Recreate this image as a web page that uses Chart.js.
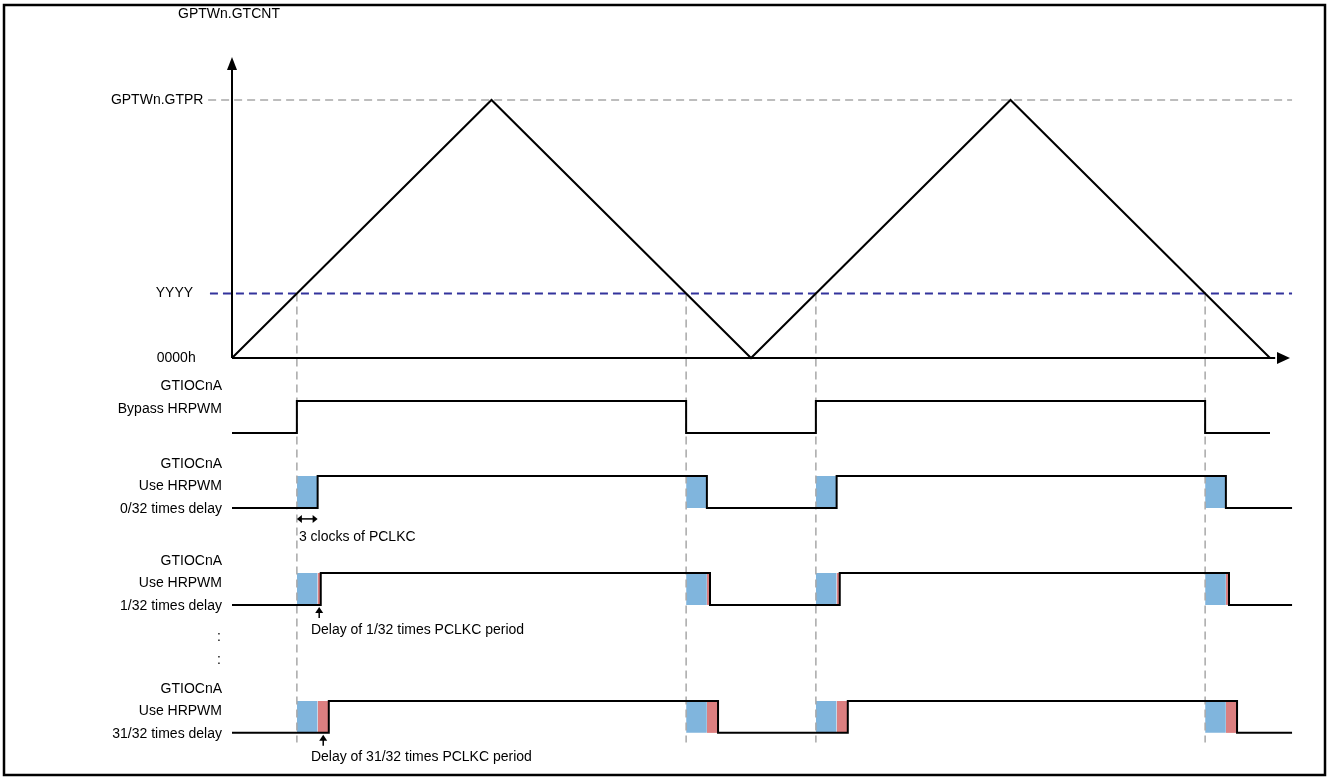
<!DOCTYPE html>
<html>
<head>
<meta charset="utf-8">
<script src="https://cdn.jsdelivr.net/npm/chart.js@4.4.1/dist/chart.umd.min.js"></script>
<style>
  html, body { margin: 0; padding: 0; background: #fff; }
  canvas { display: block; }
</style>
</head>
<body>
<canvas id="c" width="1328" height="780"></canvas>
<script>
// counter in % of GTPR, time in timer ticks
const counterT = [0, 100, 200, 300, 400];
const counterV = [0, 100, 0, 100, 0];
const tickValues = [100, 25, 0];
const tickLabels = ["GPTWn.GTPR", "YYYY", "0000h"];
const compareT = [25, 175, 225, 375];      // GTCNT == YYYY

// output rows
const rowLabels = [
  ["GTIOCnA", "Bypass HRPWM"],
  ["GTIOCnA", "Use HRPWM", "0/32 times delay"],
  ["GTIOCnA", "Use HRPWM", "1/32 times delay"],
  ["GTIOCnA", "Use HRPWM", "31/32 times delay"],
];
const clockDelay = [0, 8, 8, 8];           // 3 clocks of PCLKC
const fineDelay  = [0, 0, 1.2, 4.3];       // n/32 PCLKC period
const rowEnd     = [400, 408.5, 408.5, 408.5];

// layout (value units of the chart scales)
const laneLow = [-29.1, -58.1, -95.7, -145.3];
const levelH = 12.4;
const PX_T = 2.595, PX_V = 2.58, X0 = 232, Y0 = 358;

const BLUE = "#80b5dd", RED = "#dc7f80", NAVY = "#33339c", GREY = "#a8a8a8";
const FONT = '14px "Liberation Sans", Arial, sans-serif';

function wave(row) {
  const low = laneLow[row], high = low + levelH;
  const pts = [{ x: 0, y: low }];
  let lvl = low;
  compareT.forEach(t => {
    const e = t + clockDelay[row] + fineDelay[row];
    pts.push({ x: e, y: lvl });
    lvl = lvl === low ? high : low;
    pts.push({ x: e, y: lvl });
  });
  pts.push({ x: rowEnd[row], y: lvl });
  return pts;
}

const datasets = [];
const line = (data, color, extra) => Object.assign({
  data, borderColor: color, borderWidth: 2, pointRadius: 0, showLine: true,
  tension: 0, fill: false, borderJoinStyle: "miter", order: 0
}, extra || {});

datasets.push(line(counterT.map((t, i) => ({ x: t, y: counterV[i] })), "#000"));
datasets.push(line([{ x: -9.2, y: tickValues[0] }, { x: 408.5, y: tickValues[0] }], GREY,
  { borderWidth: 1.5, borderDash: [8, 5], order: 3 }));
datasets.push(line([{ x: -8.5, y: tickValues[1] }, { x: 408.5, y: tickValues[1] }], NAVY,
  { borderWidth: 2, borderDash: [8, 5], order: 3 }));
compareT.forEach(t => {
  datasets.push(line([{ x: t, y: tickValues[1] }, { x: t, y: -149 }], GREY,
    { borderWidth: 1.5, borderDash: [8, 5], order: 1 }));
});
for (let r = 1; r < 4; r++) {
  const low = laneLow[r], high = low + levelH;
  compareT.forEach(t => {
    datasets.push(line([{ x: t, y: high }, { x: t + clockDelay[r], y: high }], BLUE,
      { borderWidth: 0, fill: { value: low }, backgroundColor: BLUE, order: 2 }));
    if (fineDelay[r] > 0) {
      const a = t + clockDelay[r];
      datasets.push(line([{ x: a, y: high }, { x: a + fineDelay[r], y: high }], RED,
        { borderWidth: 0, fill: { value: low }, backgroundColor: RED, order: 2 }));
    }
  });
}
for (let r = 0; r < 4; r++) datasets.push(line(wave(r), "#000"));

function arrowHead(ctx, x, y, dir, len, half) {
  ctx.beginPath();
  if (dir === "up") { ctx.moveTo(x, y); ctx.lineTo(x - half, y + len); ctx.lineTo(x + half, y + len); }
  if (dir === "right") { ctx.moveTo(x, y); ctx.lineTo(x - len, y - half); ctx.lineTo(x - len, y + half); }
  if (dir === "left") { ctx.moveTo(x, y); ctx.lineTo(x + len, y - half); ctx.lineTo(x + len, y + half); }
  ctx.closePath();
  ctx.fill();
}

const decor = {
  id: "decor",
  afterDraw(chart) {
    const { ctx } = chart;
    const xs = chart.scales.x, ys = chart.scales.y;
    const px = v => xs.getPixelForValue(v), py = v => ys.getPixelForValue(v);
    ctx.save();
    ctx.fillStyle = "#000"; ctx.strokeStyle = "#000"; ctx.lineWidth = 2;

    // axes with arrows
    ctx.beginPath();
    ctx.moveTo(px(0), py(0)); ctx.lineTo(px(0), py(113));
    ctx.moveTo(px(0), py(0)); ctx.lineTo(px(402), py(0));
    ctx.stroke();
    arrowHead(ctx, px(0), py(116.7), "up", 13, 5);
    arrowHead(ctx, px(407.7), py(0), "right", 13, 6);

    ctx.font = FONT;
    ctx.textBaseline = "middle";
    ctx.textAlign = "center";
    ctx.fillText("GPTWn.GTCNT", px(0) - 3, 14);
    ctx.textAlign = "right";
    ctx.fillText(tickLabels[0], px(-11), py(tickValues[0]));
    ctx.fillText(tickLabels[1], px(-15), py(tickValues[1]));
    ctx.fillText(tickLabels[2], px(-14), py(tickValues[2]));

    // row labels
    rowLabels.forEach((lines, r) => {
      const base = py(laneLow[r]) + (r === 0 ? -24 : 1);
      lines.forEach((s, i) => {
        ctx.fillText(s, px(0) - 10, base - (lines.length - 1 - i) * 22.5);
      });
    });
    ctx.textAlign = "center";
    ctx.fillText(":", 219, py(laneLow[2]) + 32);
    ctx.fillText(":", 219, py(laneLow[2]) + 55);

    // 3 clocks marker
    const t0 = compareT[0];
    const ya = py(laneLow[1]) + 11;
    ctx.lineWidth = 1.5;
    ctx.beginPath(); ctx.moveTo(px(t0) + 3, ya); ctx.lineTo(px(t0 + clockDelay[1]) - 3, ya); ctx.stroke();
    arrowHead(ctx, px(t0), ya, "left", 5, 4);
    arrowHead(ctx, px(t0 + clockDelay[1]), ya, "right", 5, 4);
    ctx.textAlign = "left";
    ctx.fillText("3 clocks of PCLKC", px(t0) + 2, py(laneLow[1]) + 29);

    // fine delay markers
    [[2, "Delay of 1/32 times PCLKC period", 25], [3, "Delay of 31/32 times PCLKC period", 24]].forEach(([r, s, dy]) => {
      const xm = px(t0 + clockDelay[r] + fineDelay[r] / 2);
      const yl = py(laneLow[r]);
      ctx.beginPath(); ctx.moveTo(xm, yl + 6); ctx.lineTo(xm, yl + 13); ctx.stroke();
      arrowHead(ctx, xm, yl + 2, "up", 6, 4);
      ctx.fillText(s, px(t0) + 14, yl + dy);
    });

    // frame
    ctx.lineWidth = 2.5;
    ctx.strokeRect(4, 5, 1321, 770);
    ctx.restore();
  }
};

new Chart(document.getElementById("c"), {
  type: "scatter",
  data: { datasets },
  options: {
    responsive: false,
    devicePixelRatio: 1,
    animation: false,
    layout: { padding: 0 },
    plugins: { legend: { display: false }, tooltip: { enabled: false } },
    scales: {
      x: { type: "linear", display: false, min: -X0 / PX_T, max: (1328 - X0) / PX_T },
      y: { type: "linear", display: false, min: -(780 - Y0) / PX_V, max: Y0 / PX_V }
    }
  },
  plugins: [decor]
});
</script>
</body>
</html>
